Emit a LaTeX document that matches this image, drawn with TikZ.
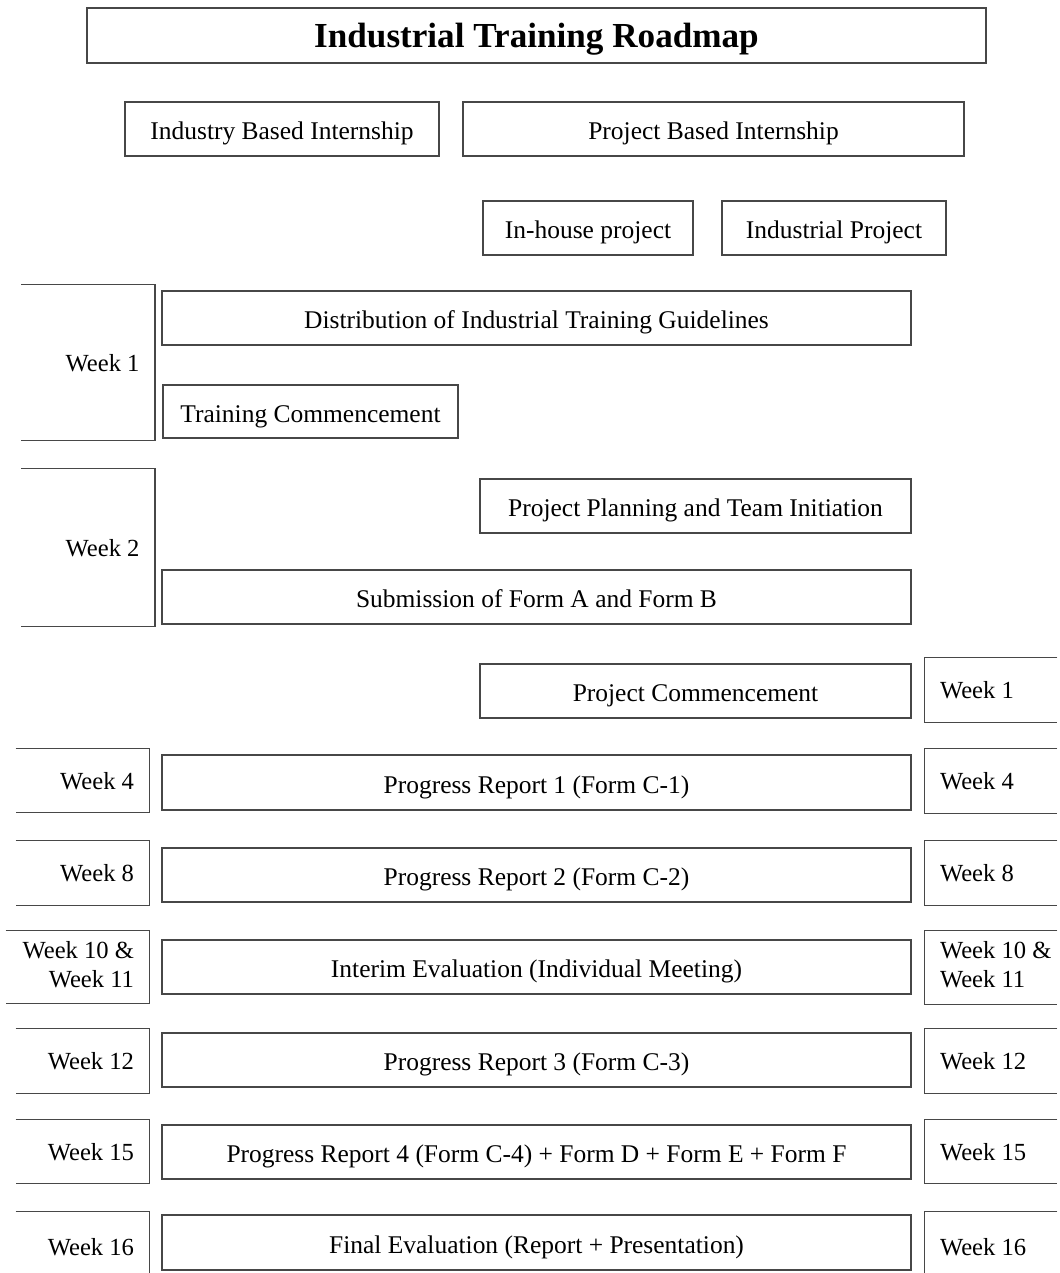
\documentclass[tikz,border=0pt]{standalone}
\usepackage{fontspec}
\setmainfont{Liberation Serif}
\usetikzlibrary{positioning}

\tikzset{
    box/.style={draw=black!72, line width=0.8pt, minimum height=1.08cm, inner sep=0pt, text height=12.2pt, text depth=0pt},
    lweek/.style={text width=2.06cm, align=flush right, inner xsep=0.3cm, inner ysep=0pt, text height=10pt, text depth=0pt, font=\fontsize{14}{16.5}\selectfont},
    rweek/.style={text width=2.04cm, align=flush left, inner xsep=0.3cm, inner ysep=0pt, text height=10pt, text depth=0pt, font=\fontsize{14}{16.5}\selectfont},
    twoline/.style={text height=, text depth=},
}

\begin{document}
\begin{tikzpicture}[x=0.02cm, y=-0.02cm, font=\fontsize{14.5}{16.5}\selectfont]
                \useasboundingbox[fill=white] (0,0) rectangle (1060,1273);
                % header
                \node[box, minimum width=17.98cm, minimum height=1.1cm, text height=13.4pt, font=\fontsize{20}{22}\selectfont\bfseries] (title) at (536.5,35.5) {Industrial Training Roadmap};
                \node[box, minimum width=6.28cm] (ibi) at (282,129) {Industry Based Internship};
                \node[box, minimum width=10.02cm] (pbi) at (713.5,129) {Project Based Internship};
                \node[box, minimum width=4.2cm] (inhouse) at (588,228) {In-house project};
                \node[box, minimum width=4.48cm] (indproj) at (834,228) {Industrial Project};
                % week 1 and 2
                \node[box, minimum width=14.98cm] (dist) at (536.5,318) {Distribution of Industrial Training Guidelines};
                \node[box, minimum width=5.9cm, minimum height=1.06cm] (trcomm) at (310.5,411.5) {Training Commencement};
                \node[box, minimum width=8.62cm] (plan) at (695.5,506) {Project Planning and Team Initiation};
                \node[box, minimum width=14.98cm] (subm) at (536.5,597) {Submission of Form A and Form B};
                \node[box, minimum width=8.62cm] (pcomm) at (695.5,691) {Project Commencement};
                % progress rows
                \node[box, minimum width=14.98cm, minimum height=1.1cm] (pr1) at (536.5,782.5) {Progress Report 1 (Form C-1)};
                \node[box, minimum width=14.98cm] (pr2) at (536.5,875) {Progress Report 2 (Form C-2)};
                \node[box, minimum width=14.98cm] (interim) at (536.5,967) {Interim Evaluation (Individual Meeting)};
                \node[box, minimum width=14.98cm] (pr3) at (536.5,1060) {Progress Report 3 (Form C-3)};
                \node[box, minimum width=14.98cm] (pr4) at (536.5,1152) {Progress Report 4 (Form C-4) + Form D + Form E + Form F};
                \node[box, minimum width=14.98cm, minimum height=1.1cm] (final) at (536.5,1242.5) {Final Evaluation (Report + Presentation)};
                % week labels left
                \node[lweek, minimum height=3.1cm] (lw1) at (88,362.5) {Week 1};
                \node[lweek, minimum height=3.14cm] (lw2) at (88,547.5) {Week 2};
                \node[lweek, minimum height=1.26cm] (lw4) at (82.5,780.5) {Week 4};
                \node[lweek, minimum height=1.28cm] (lw8) at (82.5,873) {Week 8};
                \node[lweek, twoline, text width=2.26cm, minimum height=1.44cm] (lw10) at (77.5,967) {\begin{tabular}{@{}r@{}}Week 10 \&\\Week 11\end{tabular}};
                \node[lweek, minimum height=1.28cm] (lw12) at (82.5,1061) {Week 12};
                \node[lweek, minimum height=1.26cm] (lw15) at (82.5,1151.5) {Week 15};
                \node[lweek, minimum height=1.4cm] (lw16) at (82.5,1247) {Week 16};
                % week labels right
                \node[rweek, minimum height=1.28cm] (rw1) at (991,690) {Week 1};
                \node[rweek, minimum height=1.28cm] (rw4) at (991,781) {Week 4};
                \node[rweek, minimum height=1.28cm] (rw8) at (991,873) {Week 8};
                \node[rweek, twoline, minimum height=1.46cm] (rw10) at (991,967.5) {\begin{tabular}{@{}l@{}}Week 10 \&\\Week 11\end{tabular}};
                \node[rweek, minimum height=1.28cm] (rw12) at (991,1061) {Week 12};
                \node[rweek, minimum height=1.26cm] (rw15) at (991,1151.5) {Week 15};
                \node[rweek, minimum height=1.4cm] (rw16) at (991,1247) {Week 16};
                % open brackets round the week labels
                \foreach \n in {lw1,lw2,lw4,lw8,lw10,lw12,lw15}
                    \draw[black!72, line width=0.8pt] (\n.north west) -| (\n.south east) -- (\n.south west);
                \foreach \n in {rw1,rw4,rw8,rw10,rw12,rw15}
                    \draw[black!72, line width=0.8pt] (\n.north east) -| (\n.south west) -- (\n.south east);
                \draw[black!72, line width=0.8pt] (lw16.north west) -| (lw16.south east);
                \draw[black!72, line width=0.8pt] (rw16.north east) -| (rw16.south west);
\end{tikzpicture}
\end{document}
